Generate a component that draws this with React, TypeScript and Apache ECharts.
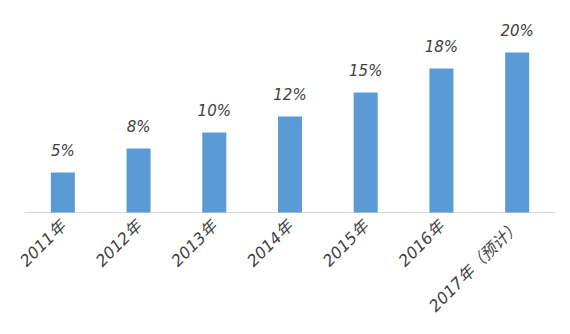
import React, { useEffect, useRef } from "react";
import * as echarts from "echarts";

const categories = ["2011年", "2012年", "2013年", "2014年", "2015年", "2016年", "2017年（预计）"];
const values = [5, 8, 10, 12, 15, 18, 20];

export default function App() {
  const ref = useRef<HTMLDivElement>(null);
  useEffect(() => {
    const chart = echarts.init(ref.current!, null, { renderer: "svg" });
    chart.setOption({
      animation: false,
      grid: { left: 25, right: 15, top: 12.5, bottom: 121.5, containLabel: false },
      xAxis: {
        type: "category",
        data: categories,
        axisLine: { lineStyle: { color: "#D9D9D9", width: 1 } },
        axisTick: { show: false },
        axisLabel: {
          rotate: 45,
          interval: 0,
          color: "#404040",
          fontSize: 16,
          fontStyle: "italic",
          fontFamily: "'DejaVu Sans', 'Noto Sans CJK SC', sans-serif",
          margin: 11,
        },
      },
      yAxis: {
        type: "value",
        min: 0,
        max: 25,
        show: false,
        splitLine: { show: false },
      },
      series: [
        {
          type: "bar",
          data: values,
          barWidth: 24,
          itemStyle: { color: "#5B9BD5" },
          label: {
            show: true,
            position: "top",
            distance: 14,
            formatter: "{c}%",
            color: "#404040",
            fontSize: 15,
            fontStyle: "italic",
            fontFamily: "'DejaVu Sans', sans-serif",
          },
        },
      ],
    });
    return () => chart.dispose();
  }, []);
  return <div ref={ref} style={{ width: 570, height: 334, position: "absolute", left: 0, top: 0, background: "#fff" }} />;
}
